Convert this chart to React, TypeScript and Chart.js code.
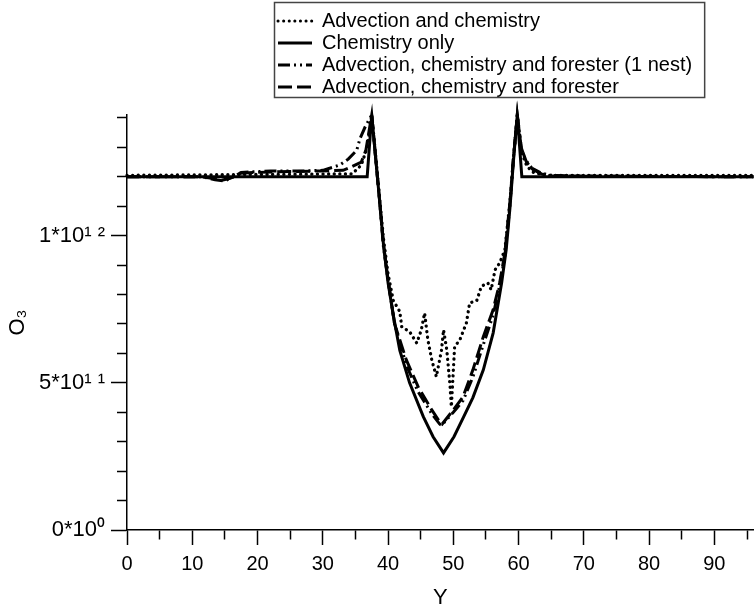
import React, { useEffect, useRef } from 'react';
import { Chart, registerables } from 'chart.js';

Chart.register(...registerables);

const FONT = "'Liberation Sans', Arial, Helvetica, sans-serif";

const seriesNames = [
  'Advection and chemistry',
  'Chemistry only',
  'Advection, chemistry and forester (1 nest)',
  'Advection, chemistry and forester',
];

// O3 values are in units of 10^12 (axis labels show the power of ten)
// Chemistry only (solid)
const chemX = [0, 36.8, 37.5, 38.2, 38.7, 39.3, 40.0, 40.8, 41.8, 43.3, 45.4, 46.9, 48.5, 50.1, 51.6, 53.0, 54.6, 56.1, 57.4, 58.1, 58.7, 59.2, 59.8, 60.5, 96];
const chemY = [1.2, 1.2, 1.41, 1.24, 1.12, 0.97, 0.84, 0.73, 0.61, 0.50, 0.385, 0.317, 0.262, 0.317, 0.385, 0.45, 0.544, 0.669, 0.839, 0.952, 1.10, 1.25, 1.41, 1.20, 1.20];

// Advection and chemistry (dotted)
const advX = [0, 34.5, 35.9, 36.8, 37.5, 38.2, 38.7, 39.3, 40.0, 40.8, 41.8, 42.1, 43.3, 44.4, 45.1, 45.6, 46.1, 46.7, 47.4, 48.2, 48.5, 49.0, 49.5, 49.7, 50.2, 51.0, 52.0, 52.5, 53.6, 54.3, 55.3, 55.8, 56.4, 57.1, 57.9, 58.7, 59.2, 59.8, 60.5, 61.3, 62.3, 64.0, 96];
const advY = [1.205, 1.21, 1.24, 1.30, 1.41, 1.25, 1.13, 0.99, 0.87, 0.78, 0.742, 0.69, 0.674, 0.635, 0.68, 0.737, 0.646, 0.578, 0.521, 0.612, 0.68, 0.612, 0.49, 0.419, 0.623, 0.646, 0.703, 0.771, 0.78, 0.828, 0.839, 0.816, 0.884, 0.907, 0.952, 1.12, 1.26, 1.41, 1.28, 1.235, 1.215, 1.205, 1.205];

// Advection, chemistry and forester (1 nest) (dash-dot)
const nestX = [0, 11.5, 13.5, 15.0, 16.3, 17.5, 22, 27, 30, 32.6, 33.9, 35.2, 35.7, 36.5, 37.5, 38.2, 38.7, 39.3, 40.0, 41.0, 42.8, 44.6, 46.7, 47.9, 48.2, 50.0, 51.5, 53.0, 54.6, 56.1, 57.1, 57.9, 58.7, 59.2, 59.8, 60.4, 61.0, 62.0, 63.5, 65.0, 70, 96];
const nestY = [1.20, 1.20, 1.19, 1.186, 1.20, 1.215, 1.22, 1.22, 1.222, 1.24, 1.26, 1.29, 1.33, 1.37, 1.41, 1.24, 1.12, 0.96, 0.85, 0.70, 0.56, 0.47, 0.395, 0.36, 0.355, 0.40, 0.44, 0.52, 0.63, 0.73, 0.83, 0.93, 1.11, 1.26, 1.41, 1.30, 1.26, 1.23, 1.212, 1.205, 1.202, 1.20];

// Advection, chemistry and forester (dashed)
const forX = [0, 11.5, 13.0, 14.5, 15.8, 17.3, 20, 25, 30, 33.1, 34.5, 35.9, 36.6, 37.5, 38.2, 38.7, 39.3, 40.0, 41.0, 42.8, 44.6, 46.7, 47.9, 48.3, 50.0, 51.5, 53.0, 54.6, 56.1, 57.1, 57.9, 58.7, 59.2, 59.8, 60.4, 61.2, 62.2, 63.5, 65.0, 96];
const forY = [1.20, 1.20, 1.195, 1.188, 1.195, 1.212, 1.215, 1.218, 1.22, 1.222, 1.235, 1.25, 1.29, 1.41, 1.24, 1.12, 0.97, 0.85, 0.70, 0.578, 0.487, 0.408, 0.368, 0.36, 0.408, 0.453, 0.544, 0.657, 0.748, 0.839, 0.941, 1.12, 1.26, 1.41, 1.30, 1.25, 1.225, 1.21, 1.203, 1.20];

const xMin = 0;
const xMax = 96;
const xStep = 5;
const xLabelEvery = 10;

const yMax = 1.41;
const yStep = 0.1;
const yLabelValues = [0, 0.5, 1.0];
const yLabelTexts = ['0*10\u2070', '5*10\u00B9 \u00B9', '1*10\u00B9 \u00B2'];

const xTitle = 'Y';
const yTitle = 'O\u2083';

function pts(xs: number[], ys: number[]) {
  return xs.map((x, i) => ({ x, y: ys[i] }));
}

export default function App() {
  const ref = useRef<HTMLCanvasElement>(null);

  useEffect(() => {
    const canvas = ref.current;
    if (!canvas) return;

    const legendPlugin = {
      id: 'legendPlacer',
      afterLayout(chart: any) {
        const lg = chart.legend;
        if (!lg) return;
        const w = lg.width;
        lg.left = 276;
        lg.right = 276 + w;
        lg.top = 9;
        lg.bottom = 300;
        lg.height = 291;
      },
      afterDraw(chart: any) {
        const lg = chart.legend;
        if (!lg) return;
        const ctx = chart.ctx;
        ctx.save();
        ctx.strokeStyle = '#444';
        ctx.lineWidth = 1.5;
        ctx.strokeRect(274.5, 2.5, lg.width + 4, 95);
        ctx.restore();
      },
    };

    const base = {
      fill: false,
      pointRadius: 0,
      tension: 0,
      borderColor: '#000',
      backgroundColor: '#000',
      borderWidth: 3,
      clip: false as any,
    };

    const defaultGen = (Chart.defaults as any).plugins.legend.labels.generateLabels;

    const chart = new Chart(canvas, {
      type: 'line',
      data: {
        datasets: [
          { ...base, label: seriesNames[0], data: pts(advX, advY), borderDash: [0.1, 5.5], borderCapStyle: 'round', borderWidth: 3.3 },
          { ...base, label: seriesNames[1], data: pts(chemX, chemY), borderDash: [] },
          { ...base, label: seriesNames[2], data: pts(nestX, nestY), borderDash: [12, 4, 2, 4, 2, 4] },
          { ...base, label: seriesNames[3], data: pts(forX, forY), borderDash: [14, 5] },
        ] as any,
      },
      options: {
        animation: false,
        responsive: false,
        devicePixelRatio: 1,
        layout: { padding: { top: 115, left: 0, right: 0, bottom: 0 } },
        plugins: {
          legend: {
            position: 'chartArea' as any,
            align: 'start',
            labels: {
              usePointStyle: true,
              pointStyle: 'line',
              pointStyleWidth: 34,
              boxHeight: 20,
              padding: 2,
              color: '#000',
              font: { family: FONT, size: 20 },
              generateLabels: (chart: any) => {
                const items = defaultGen(chart);
                return items.map((it: any) => {
                  const ds = chart.data.datasets[it.datasetIndex];
                  return {
                    ...it,
                    lineDash: ds.borderDash || [],
                    lineCap: ds.borderCapStyle || 'butt',
                    lineWidth: 3,
                    strokeStyle: '#000',
                    fillStyle: '#000',
                    pointStyle: 'line',
                  };
                });
              },
            },
          },
          tooltip: { enabled: false },
        },
        scales: {
          x: {
            type: 'linear',
            min: xMin,
            max: xMax,
            afterFit: (s: any) => { s.height = 79; },
            border: { display: true, color: '#000', width: 1.5 },
            grid: {
              display: true,
              drawOnChartArea: false,
              drawTicks: true,
              tickLength: 15,
              tickColor: '#000',
              tickWidth: 1.5,
              tickBorderDash: (c: any) => (c.tick && c.tick.value % xLabelEvery === 0 ? [] : [9, 100]),
            } as any,
            ticks: {
              stepSize: xStep,
              includeBounds: false,
              autoSkip: false,
              maxRotation: 0,
              padding: 7,
              color: '#000',
              font: { family: FONT, size: 20 },
              callback: (v: any) => (Number(v) % xLabelEvery === 0 ? String(v) : ''),
            },
            title: { display: true, text: xTitle, color: '#000', font: { family: FONT, size: 22, lineHeight: 1 }, padding: 0 },
          },
          y: {
            type: 'linear',
            min: 0,
            max: yMax,
            afterFit: (s: any) => { s.width = 127; },
            border: { display: true, color: '#000', width: 1.5 },
            grid: {
              display: true,
              drawOnChartArea: false,
              drawTicks: true,
              tickLength: 16,
              tickColor: '#000',
              tickWidth: 1.5,
              tickBorderDash: (c: any) => {
                const v = c.tick ? c.tick.value : 0;
                return yLabelValues.some((lv) => Math.abs(lv - v) < 1e-6) ? [] : [0, 6, 10, 100];
              },
            } as any,
            ticks: {
              stepSize: yStep,
              includeBounds: false,
              autoSkip: false,
              padding: 6,
              color: '#000',
              font: { family: FONT, size: 22 },
              callback: (v: any) => {
                const i = yLabelValues.findIndex((lv) => Math.abs(lv - Number(v)) < 1e-6);
                return i >= 0 ? yLabelTexts[i] : '';
              },
            },
            title: { display: true, text: yTitle, color: '#000', font: { family: FONT, size: 22, lineHeight: 1 }, padding: { top: 7, bottom: 0 } },
          },
        },
      } as any,
      plugins: [legendPlugin],
    });

    return () => chart.destroy();
  }, []);

  return (
    <div style={{ position: 'absolute', left: 0, top: 0, width: 754, height: 609, background: '#fff' }}>
      <canvas ref={ref} width={754} height={609} style={{ display: 'block' }} />
    </div>
  );
}
